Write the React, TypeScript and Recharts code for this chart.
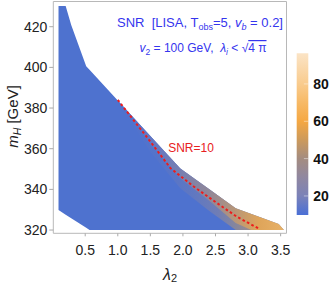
import React from 'react';
import { ComposedChart, Area, Line, XAxis, YAxis, ReferenceArea, ReferenceLine } from 'recharts';

// Allowed region (lambda2 vs m_H): lower and upper boundary
const regionX = [0.09, 0.2, 0.285, 0.515, 0.566, 1.0, 1.5, 1.96, 2.4, 2.81, 3.2, 3.47, 3.55];
const regionLow = [329.8, 327.5, 325.8, 321.1, 320, 320, 320, 320, 320, 320, 320, 320, 320];
const regionHigh = [430.2, 430.2, 420.8, 400.6, 398.8, 383.7, 366.3, 350.3, 340.2, 330.7, 326.2, 323, 320];

// High-SNR band along the upper-right edge (soft outer part and stronger inner part)
const bandX = [1.0, 1.5, 1.96, 2.4, 2.81, 3.05, 3.47, 3.55];
const softLow = [383.7, 358.5, 340.5, 329.5, 320, 320, 320, 320];
const bandLow = [383.7, 362.5, 345.5, 334.5, 323.5, 320, 320, 320];
const bandHigh = [383.7, 366.3, 350.3, 340.2, 330.7, 327.9, 323, 320];

// SNR = 10 contour
const snrX = [1.0, 1.5, 1.81, 2.17, 2.53, 2.83, 3.17];
const snrY = [384, 363.5, 350.4, 341.3, 333.1, 326.5, 320.6];

const xTicks = [0.5, 1.0, 1.5, 2.0, 2.5, 3.0, 3.5];
const yTicks = [320, 340, 360, 380, 400, 420];
const cbTicks = [20, 40, 60, 80];

const X_DOMAIN: [number, number] = [0.01, 3.59];
const Y_DOMAIN: [number, number] = [318.4, 432.4];
const CB_DOMAIN: [number, number] = [9.8, 96.4];

const regionData = regionX.map((x, i) => ({ x, r: [regionLow[i], regionHigh[i]] }));
const softData = bandX.map((x, i) => ({ x, r: [softLow[i], bandHigh[i]] }));
const bandData = bandX.map((x, i) => ({ x, r: [bandLow[i], bandHigh[i]] }));
const snrData = snrX.map((x, i) => ({ x, y: snrY[i] }));

const FONT = '"Liberation Sans", Arial, sans-serif';
const BLUE = '#4e72cf';
const TITLE = '#3535ee';

export default function App() {
  return (
    <div style={{ position: 'absolute', left: 0, top: 0, width: 332, height: 283, background: '#fff' }}>
      <div style={{ position: 'absolute', left: 0, top: 0 }}>
        <ComposedChart width={332} height={283} margin={{ top: 1.5, right: 45.5, bottom: 0, left: 0 }}>
          <defs>
            <linearGradient id="softGrad" x1="0" y1="0" x2="1" y2="0">
              <stop offset="0" stopColor={BLUE} />
              <stop offset="0.25" stopColor="#5a75c6" />
              <stop offset="0.45" stopColor="#6e7cb6" />
              <stop offset="0.6" stopColor="#8a86a0" />
              <stop offset="0.72" stopColor="#b8986e" />
              <stop offset="0.85" stopColor="#e6a752" />
              <stop offset="1" stopColor="#f4b45a" />
            </linearGradient>
            <linearGradient id="bandGrad" x1="0" y1="0" x2="1" y2="0">
              <stop offset="0" stopColor={BLUE} />
              <stop offset="0.2" stopColor="#6678c2" />
              <stop offset="0.38" stopColor="#7e82ac" />
              <stop offset="0.55" stopColor="#9a8a90" />
              <stop offset="0.72" stopColor="#c89c6c" />
              <stop offset="0.85" stopColor="#eeaa4e" />
              <stop offset="1" stopColor="#f7b85e" />
            </linearGradient>
          </defs>
          <XAxis
            dataKey="x"
            type="number"
            domain={X_DOMAIN}
            ticks={xTicks}
            allowDataOverflow
            height={49.7}
            axisLine={false}
            tickLine={{ stroke: '#aaa' }}
            tickSize={3}
            tickMargin={9}
            tickFormatter={(v: number) => v.toFixed(1)}
            tick={{ fontFamily: FONT, fontSize: 14, fill: '#222' }}
          />
          <YAxis
            type="number"
            domain={Y_DOMAIN}
            ticks={yTicks}
            allowDataOverflow
            width={53.3}
            axisLine={false}
            tickLine={{ stroke: '#aaa' }}
            tickSize={4}
            tickMargin={2}
            tick={{ fontFamily: FONT, fontSize: 14, fill: '#222' }}
          />
          <Area
            data={regionData}
            dataKey="r"
            type="linear"
            stroke="none"
            fill={BLUE}
            fillOpacity={1}
            isAnimationActive={false}
          />
          <Area
            data={softData}
            dataKey="r"
            type="linear"
            stroke="none"
            fill="url(#softGrad)"
            fillOpacity={0.55}
            isAnimationActive={false}
          />
          <Area
            data={bandData}
            dataKey="r"
            type="linear"
            stroke="none"
            fill="url(#bandGrad)"
            fillOpacity={0.8}
            isAnimationActive={false}
          />
          <Line
            data={snrData}
            dataKey="y"
            type="linear"
            stroke="#ee1c1c"
            strokeWidth={2}
            strokeDasharray="2.6 2.4"
            dot={false}
            isAnimationActive={false}
          />
          <ReferenceArea
            x1={X_DOMAIN[0]}
            x2={X_DOMAIN[1]}
            y1={Y_DOMAIN[0]}
            y2={Y_DOMAIN[1]}
            fill="none"
            fillOpacity={0}
            stroke="#b8b8b8"
            strokeWidth={1}
            ifOverflow="visible"
          />
        </ComposedChart>
      </div>

      <div style={{ position: 'absolute', left: 290, top: 40 }}>
        <ComposedChart width={42} height={190} data={[{ x: 0 }, { x: 1 }]} margin={{ top: 13.3, right: 0, bottom: 15, left: 6.7 }}>
          <defs>
            <linearGradient id="cbGrad" x1="0" y1="1" x2="0" y2="0">
              <stop offset="0" stopColor="#4a6fd6" />
              <stop offset="0.118" stopColor="#7b82b8" />
              <stop offset="0.233" stopColor="#9087a0" />
              <stop offset="0.349" stopColor="#a48c80" />
              <stop offset="0.464" stopColor="#cc9a5c" />
              <stop offset="0.58" stopColor="#f5a843" />
              <stop offset="0.695" stopColor="#f7b965" />
              <stop offset="0.81" stopColor="#f9cb8d" />
              <stop offset="1" stopColor="#fbe4c6" />
            </linearGradient>
          </defs>
          <XAxis dataKey="x" type="number" domain={[0, 1]} hide />
          <YAxis
            orientation="right"
            type="number"
            domain={CB_DOMAIN}
            ticks={cbTicks}
            allowDataOverflow
            width={23.7}
            axisLine={false}
            tickLine={false}
            tickSize={0}
            tickMargin={5}
            tick={{ fontFamily: FONT, fontSize: 14, fontWeight: 'bold', fill: '#111' }}
          />
          <ReferenceArea x1={0} x2={1} y1={CB_DOMAIN[0]} y2={CB_DOMAIN[1]} fill="url(#cbGrad)" fillOpacity={1} stroke="none" ifOverflow="visible" />
          {cbTicks.map((v) => (
            <ReferenceLine
              key={v}
              segment={[{ x: 0.62, y: v }, { x: 1, y: v }]}
              stroke="#ffffff"
              strokeOpacity={0.45}
              strokeWidth={1}
              ifOverflow="visible"
            />
          ))}
        </ComposedChart>
      </div>

      <svg width={332} height={283} style={{ position: 'absolute', left: 0, top: 0, pointerEvents: 'none' }}>
        <text x={200} y={26.5} textAnchor="middle" fontFamily={FONT} fontSize={13} fill={TITLE}>
          <tspan>{'SNR\u00a0\u00a0[LISA, T'}</tspan>
          <tspan fontSize={9} dy={3}>obs</tspan>
          <tspan dy={-3}>{'=5, '}</tspan>
          <tspan fontStyle="italic">v</tspan>
          <tspan fontStyle="italic" fontSize={9} dy={3}>b</tspan>
          <tspan dy={-3}>{'\u00a0= 0.2]'}</tspan>
        </text>
        <text x={203} y={52} textAnchor="middle" fontFamily={FONT} fontSize={12} fill={TITLE}>
          <tspan fontStyle="italic">v</tspan>
          <tspan fontSize={8.5} dy={2.5}>2</tspan>
          <tspan dy={-2.5}>{' = 100 GeV,\u00a0\u00a0'}</tspan>
          <tspan fontStyle="italic">λ</tspan>
          <tspan fontStyle="italic" fontSize={8.5} dy={2.5}>i</tspan>
          <tspan dy={-2.5}>{' < √'}</tspan>
          <tspan style={{ textDecoration: 'overline' }}>{'4\u00a0π'}</tspan>
        </text>
        <text x={191} y={152} textAnchor="middle" fontFamily={FONT} fontSize={12} fill="#e82020">SNR=10</text>
        <text transform="translate(17.5,116.5) rotate(-90)" textAnchor="middle" fontFamily={FONT} fontSize={15} fill="#222">
          <tspan fontStyle="italic">m</tspan>
          <tspan fontStyle="italic" fontSize={10.5} dy={3.5}>H</tspan>
          <tspan dy={-3.5}>{'\u00a0[GeV]'}</tspan>
        </text>
        <text x={170} y={279.5} textAnchor="middle" fontFamily={FONT} fontSize={16} fill="#222">
          <tspan fontStyle="italic">λ</tspan>
          <tspan fontSize={11} dy={2.5}>2</tspan>
        </text>
      </svg>
    </div>
  );
}
